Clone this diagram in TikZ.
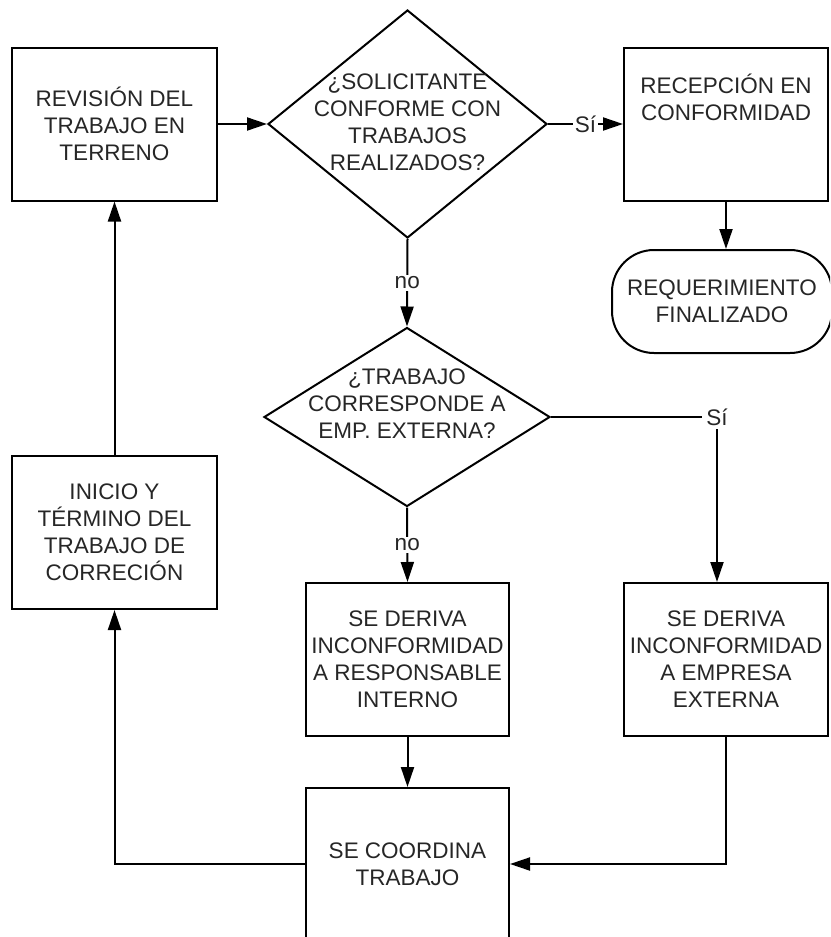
\documentclass[tikz,border=0pt]{standalone}
\usepackage{fontspec}
\setmainfont{Liberation Sans}
\usetikzlibrary{shapes.geometric,arrows.meta}
\begin{document}
\begin{tikzpicture}[x=1pt,y=-1pt,
  every node/.style={font=\fontsize{22.5}{27}\selectfont, text=black!85},
  proc/.style={draw=black, line width=2pt, rectangle, inner sep=0pt, align=center,
               minimum width=#1, minimum height=153pt},
  proc/.default=204pt,
  decision/.style={draw=black, line width=2pt, diamond, inner sep=0pt},
  term/.style={draw=black, line width=2pt, rectangle, rounded corners=42pt, inner sep=0pt,
               align=center, minimum width=220pt, minimum height=103pt},
  dtext/.style={align=center, inner sep=0pt},
  lbl/.style={fill=white, inner sep=2pt},
  arr/.style={draw=black, line width=2pt, -{Triangle[length=20pt,width=13pt]}},
  line/.style={draw=black, line width=2pt}
]
\useasboundingbox (0,0) rectangle (830,937);
\clip (0,0) rectangle (830,937);

% process boxes
\node[proc=205pt] (rev)   at (114.5,124)   {REVISIÓN DEL\\TRABAJO EN\\TERRENO};
\node[proc]       (rec)   at (726,124.5)   {RECEPCIÓN EN\\CONFORMIDAD\\[27pt]};
\node[proc=205pt] (inic)  at (114.5,532.5) {INICIO Y\\TÉRMINO DEL\\TRABAJO DE\\CORRECIÓN};
\node[proc=203pt] (dint)  at (407.5,659.5) {SE DERIVA\\INCONFORMIDAD\\A RESPONSABLE\\INTERNO};
\node[proc]       (dext)  at (726,659.5)   {SE DERIVA\\INCONFORMIDAD\\A EMPRESA\\EXTERNA};
\node[proc=203pt, minimum height=152pt] (coord) at (407.5,864) {SE COORDINA\\TRABAJO};

% terminator
\node[term] (fin) at (722,301.5) {REQUERIMIENTO\\FINALIZADO};

% decisions
\node[decision, minimum width=279pt, minimum height=228pt] (d1) at (407.5,124) {};
\node[dtext] at (407.5,122.5) {¿SOLICITANTE\\CONFORME CON\\TRABAJOS\\REALIZADOS?};
\node[decision, minimum width=286pt, minimum height=179pt] (d2) at (407,417) {};
\node[dtext] at (407,404) {¿TRABAJO\\CORRESPONDE A\\EMP. EXTERNA?};

% corner of the external branch
\coordinate (sc) at (717,417);

% connectors
\draw[arr] (rev.east) -- (d1.west);
\draw[arr] (d1.east) -- node[lbl] {Sí} (d1.east -| rec.west);
\draw[arr] (rec.south) -- (rec.south |- fin.north);
\draw[arr] (d1.south) -- node[lbl] {no} (d2.north);
\draw[arr] (d2.south) -- node[lbl] {no} (dint.north);
\draw[arr] (d2.east) -- (sc) node[lbl, inner sep=4pt] {Sí} -- (sc |- dext.north);
\draw[arr] (dint.south) -- (coord.north);
\draw[arr] (dext.south) -- (dext.south |- coord.east) -- (coord.east);
\draw[arr] (coord.west) -- (coord.west -| inic.south) -- (inic.south);
\draw[arr] (inic.north) -- (rev.south);
\end{tikzpicture}
\end{document}
